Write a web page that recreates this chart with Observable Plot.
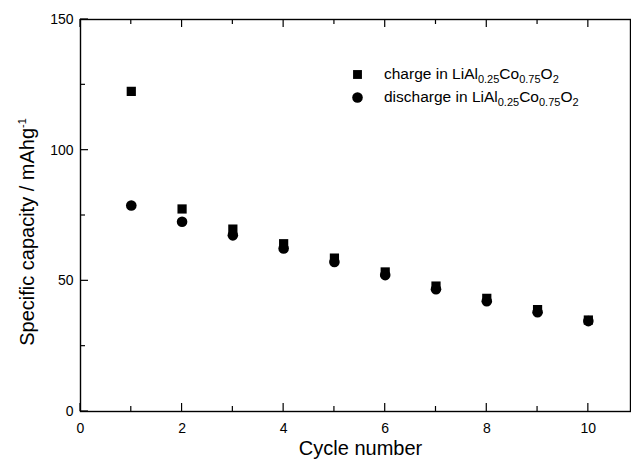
<!DOCTYPE html>
<html><head><meta charset="utf-8">
<script src="https://cdn.jsdelivr.net/npm/d3@7"></script>
<script src="https://cdn.jsdelivr.net/npm/@observablehq/plot@0.6"></script>
<style>body{margin:0;background:#fff;} svg{font-family:"Liberation Sans",Arial,sans-serif;}</style>
</head><body><div id="chart"></div>
<script>
const cycles = [1,2,3,4,5,6,7,8,9,10];
const charge = [122.5,77.5,69.8,64.2,58.7,53.4,48.0,43.3,39.0,35.0];
const discharge = [78.8,72.6,67.4,62.4,57.2,52.2,46.8,42.2,38.0,34.6];
const xMajor = [0,2,4,6,8,10];
const xMinor = [1,3,5,7,9];
const yMajor = [0,50,100,150];
const yMinor = [25,75,125];

const W = 631, H = 464, mL = 80, mR = 1, mT = 19, mB = 53;

const chargeData = cycles.map((c,i)=>({c, v: charge[i]}));
const dischargeData = cycles.map((c,i)=>({c, v: discharge[i]}));

const plot = Plot.plot({
  width: W, height: H,
  marginLeft: mL, marginRight: mR, marginTop: mT, marginBottom: mB,
  style: {fontFamily: '"Liberation Sans", Arial, sans-serif', background: "#fff"},
  x: {domain: [0, 10.83]},
  y: {domain: [0, 150]},
  marks: [
    Plot.frame({stroke: "#000", strokeWidth: 1.4}),
    Plot.axisX({ticks: xMajor, tickSize: 0, tickPadding: 12, fontSize: 14, label: null, tickFormat: d=>d}),
    Plot.axisY({ticks: yMajor, tickSize: 0, tickPadding: 7, fontSize: 14, label: null, tickFormat: d=>d}),
    Plot.dot(chargeData, {x: "c", y: "v", symbol: "square", r: 5.2, fill: "#000", stroke: "none"}),
    Plot.dot(dischargeData, {x: "c", y: "v", symbol: "circle", r: 5.3, fill: "#000", stroke: "none"}),
    Plot.dot([0], {frameAnchor: "top-left", dx: 277, dy: 55, symbol: "square", r: 5, fill: "#000"}),
    Plot.dot([0], {frameAnchor: "top-left", dx: 277, dy: 78, symbol: "circle", r: 5.3, fill: "#000"}),
    Plot.text(["Cycle number"], {frameAnchor: "bottom", lineAnchor: "middle", dx: 5, dy: 37, fontSize: 20, fill:"#000"})
  ]
});
document.getElementById("chart").append(plot);
const svg = d3.select(plot);
const xs = plot.scale("x"), ys = plot.scale("y");
const frameTop = mT, frameBottom = H - mB, frameLeft = mL;
const tg = svg.append("g").attr("stroke", "#000").attr("stroke-width", 1.2);
function xt(v, len){
  const px = xs.apply(v);
  tg.append("line").attr("x1", px).attr("x2", px).attr("y1", frameBottom).attr("y2", frameBottom - len);
  tg.append("line").attr("x1", px).attr("x2", px).attr("y1", frameTop).attr("y2", frameTop + len);
}
function yt(v, len){
  const py = ys.apply(v);
  tg.append("line").attr("x1", frameLeft).attr("x2", frameLeft + len).attr("y1", py).attr("y2", py);
}
xMajor.forEach(v=>xt(v, 8)); xMinor.forEach(v=>xt(v, 5));
yMajor.forEach(v=>yt(v, 8)); yMinor.forEach(v=>yt(v, 5));

function legendText(y, word){
  const t = svg.append("text").attr("x", 384).attr("y", y).attr("font-size", 15.5)
    .attr("fill","#000").attr("text-anchor","start");
  t.append("tspan").text(word + " in LiAl");
  t.append("tspan").attr("font-size", 11).attr("dy", 4).text("0.25");
  t.append("tspan").attr("dy", -4).text("Co");
  t.append("tspan").attr("font-size", 11).attr("dy", 4).text("0.75");
  t.append("tspan").attr("dy", -4).text("O");
  t.append("tspan").attr("font-size", 11).attr("dy", 4).text("2");
}
legendText(79, "charge");
legendText(102, "discharge");
const yl = svg.append("text").attr("transform", "translate(34,232) rotate(-90)")
  .attr("text-anchor","middle").attr("font-size", 20).attr("fill","#000");
yl.append("tspan").text("Specific capacity / mAhg");
yl.append("tspan").attr("font-size", 11).attr("dy", -8).text("-1");
</script></body></html>
